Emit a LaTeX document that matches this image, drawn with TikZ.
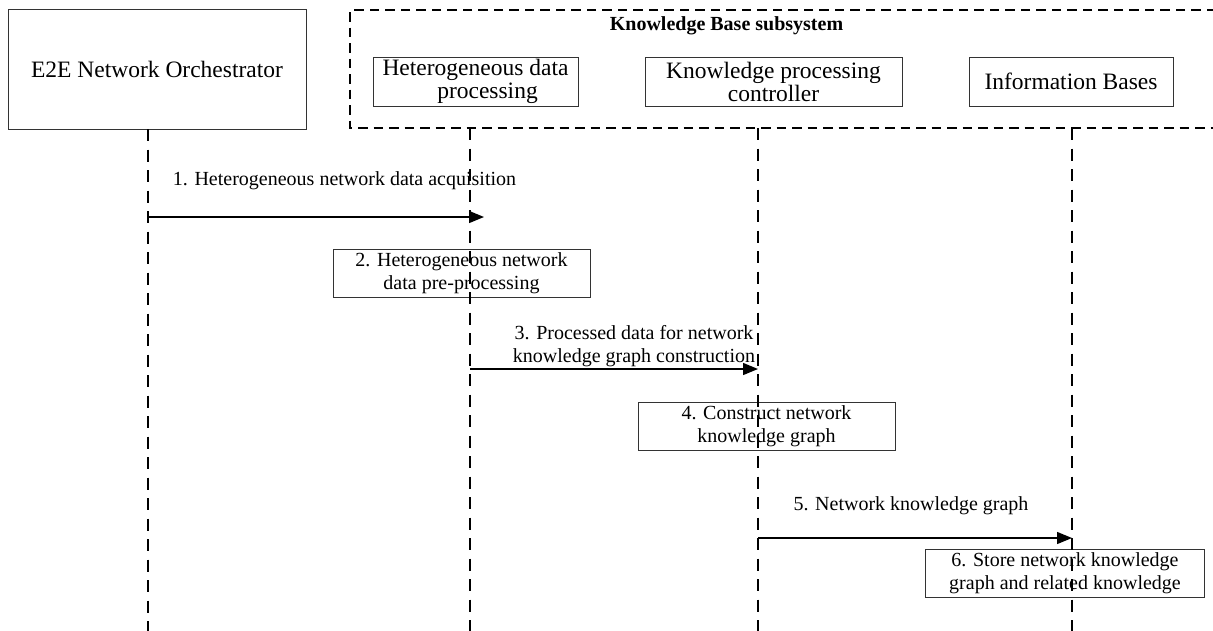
\documentclass[tikz,border=0pt]{standalone}
\usepackage{fontspec}
\setmainfont{Liberation Serif}
\usetikzlibrary{arrows.meta}

\tikzset{
  entity/.style={draw=black!80, line width=0.9pt, inner sep=0pt, align=center,
    font=\fontsize{23.5}{23}\selectfont},
  actionbox/.style={draw=black!80, line width=0.9pt, inner sep=0pt, align=center,
    minimum width=257pt, minimum height=48pt, font=\fontsize{20}{23}\selectfont},
  msglabel/.style={inner sep=0pt, align=center, font=\fontsize{20}{23}\selectfont},
  lifeline/.style={line width=1.4pt, dash pattern=on 12pt off 8.5pt},
  kbframe/.style={line width=1.2pt, dash pattern=on 9.5pt off 6pt},
  msg/.style={line width=1.4pt, -{Triangle[length=15pt,width=12pt]}}
}

\begin{document}
\begin{tikzpicture}[x=1pt,y=-1pt]
\useasboundingbox (0,0) rectangle (1213,630);

% Orchestrator outside the subsystem
\node[entity, minimum width=298pt, minimum height=120pt] (e2e) at (157,69)
  {E2E Network Orchestrator};

% Knowledge Base subsystem frame (open to the right)
\draw[kbframe] (1216,10) -- (350,10) -- (350,128) -- (1216,128);
\node[inner sep=0pt, font=\fontsize{20}{23}\selectfont\bfseries] (kbtitle) at (726.5,26)
  {Knowledge Base subsystem};

% Subsystem components
\node[entity, minimum width=205pt, minimum height=49pt] (hdp) at (475.5,81.5)
  {Heterogeneous data\\\hspace*{24pt}processing};
\node[entity, minimum width=257pt, minimum height=49pt] (kpc) at (773.5,81.5)
  {Knowledge processing\\controller};
\node[entity, minimum width=204pt, minimum height=49pt] (ib) at (1071,81.5)
  {Information Bases};

% Lifelines
\coordinate (l1top) at (148,129);  \coordinate (l1bot) at (148,631);
\coordinate (l2top) at (470,128);  \coordinate (l2bot) at (470,631);
\coordinate (l3top) at (758,128);  \coordinate (l3bot) at (758,631);
\coordinate (l4top) at (1072,128); \coordinate (l4bot) at (1072,631);

% Message end points
\coordinate (m1s) at (148,217);  \coordinate (m1e) at (484,217);
\coordinate (m3s) at (470,369);  \coordinate (m3e) at (758,369);
\coordinate (m5s) at (758,538);  \coordinate (m5e) at (1072,538);

% Step boxes
\node[actionbox] (s2) at (461.5,273)
  {2. Heterogeneous network\\data pre-processing};
\node[actionbox] (s4) at (766.5,426)
  {4. Construct network\\knowledge graph};
\node[actionbox, minimum width=279pt] (s6) at (1065,573)
  {6. Store network knowledge\\graph and related knowledge};

% Messages
\draw[msg] (m1s) -- (m1e);
\node[msglabel] (t1) at (344.5,181) {1. Heterogeneous network data acquisition};
\draw[msg] (m3s) -- (m3e);
\node[msglabel] (t3) at (634,346) {3. Processed data for network\\knowledge graph construction};
\draw[msg] (m5s) -- (m5e);
\node[msglabel] (t5) at (911,506) {5. Network knowledge graph};

% Lifelines drawn last, over the boxes
\draw[lifeline] (l1top) -- (l1bot);
\draw[lifeline] (l2top) -- (l2bot);
\draw[lifeline] (l3top) -- (l3bot);
\draw[lifeline] (l4top) -- (l4bot);
\end{tikzpicture}
\end{document}
